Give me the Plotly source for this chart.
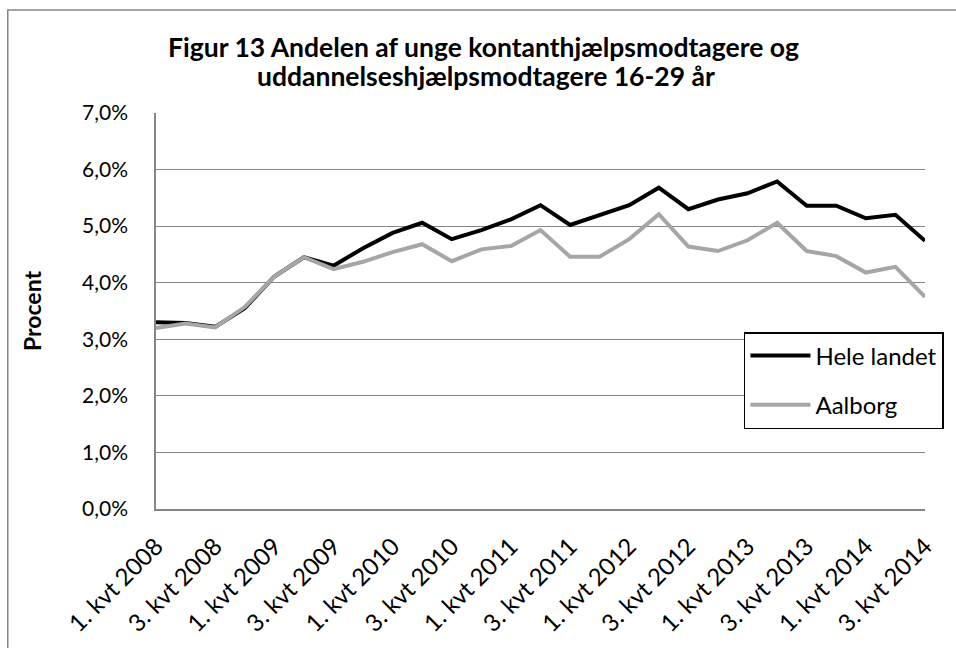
import plotly.graph_objects as go

quarters = [f"{q}. kvt {y}" for y in range(2008, 2015) for q in (1, 2, 3, 4)][:27]
tick_labels = quarters[::2]

hele_landet = [3.30, 3.29, 3.22, 3.55, 4.11, 4.45, 4.30, 4.61, 4.88, 5.06, 4.77, 4.93, 5.12, 5.37,
               5.02, 5.20, 5.37, 5.68, 5.30, 5.47, 5.58, 5.79, 5.36, 5.36, 5.14, 5.20, 4.74]
aalborg = [3.20, 3.28, 3.21, 3.57, 4.11, 4.45, 4.24, 4.37, 4.54, 4.68, 4.38, 4.59, 4.65, 4.93,
           4.46, 4.46, 4.77, 5.21, 4.64, 4.56, 4.75, 5.06, 4.56, 4.47, 4.18, 4.28, 3.75]

FONT = "Lato, 'Open Sans', sans-serif"
W, H = 956, 648
L, R, T, B = 156, 27, 113, 139
pw, ph = W - L - R, H - T - B

def px(x):
    return (x - L) / pw

def py(y):
    return (H - B - y) / ph

fig = go.Figure()
fig.add_trace(go.Scatter(x=quarters, y=[v / 100 for v in hele_landet], name="Hele landet",
                         mode="lines", line=dict(color="#000000", width=4), legendgroup="a"))
fig.add_trace(go.Scatter(x=quarters, y=[v / 100 for v in aalborg], name="Aalborg",
                         mode="lines", line=dict(color="#A6A6A6", width=4), legendgroup="b"))

fig.update_layout(
    width=W, height=H,
    margin=dict(l=L, r=R, t=T, b=B),
    paper_bgcolor="white", plot_bgcolor="white",
    separators=",.",
    font=dict(family=FONT, size=21, color="#000000"),
    showlegend=True,
    legend=dict(x=px(747), y=py(332), xanchor="left", yanchor="top",
                bordercolor="#000000", borderwidth=1.5, bgcolor="white",
                font=dict(family=FONT, size=24), tracegroupgap=15,
                traceorder="grouped", itemwidth=60),
    xaxis=dict(type="category", range=[0, 26], tickmode="array", tickvals=tick_labels,
               ticktext=tick_labels, tickangle=-45, showgrid=False, showline=True,
               linecolor="#868686", linewidth=1.5, ticks="", ticklabelstandoff=12,
               tickfont=dict(family=FONT, size=24)),
    yaxis=dict(range=[0, 0.07], dtick=0.01, tickformat=".1%", showgrid=True,
               gridcolor="#868686", gridwidth=1.2, showline=True, linecolor="#868686",
               linewidth=1.5, ticks="", ticklabelstandoff=22, zeroline=False,
               tickfont=dict(family=FONT, size=21),
               title=dict(text="<b>Procent</b>", font=dict(family=FONT, size=23), standoff=34)),
    shapes=[dict(type="rect", xref="paper", yref="paper", x0=px(7), x1=px(1000),
                 y0=py(700), y1=py(10), line=dict(color="#868686", width=1.5))],
    annotations=[
        dict(text="<b>Figur 13 Andelen af unge kontanthjælpsmodtagere og</b>", xref="paper",
             yref="paper", x=px(485), y=py(47), xanchor="center", yanchor="middle",
             showarrow=False, font=dict(family=FONT, size=26.5)),
        dict(text="<b>uddannelseshjælpsmodtagere 16-29 år</b>", xref="paper",
             yref="paper", x=px(488), y=py(76), xanchor="center", yanchor="middle",
             showarrow=False, font=dict(family=FONT, size=26.5)),
    ],
)

fig.write_html("out.html", config={"displayModeBar": False},
               post_script="document.body.style.margin='0';")
